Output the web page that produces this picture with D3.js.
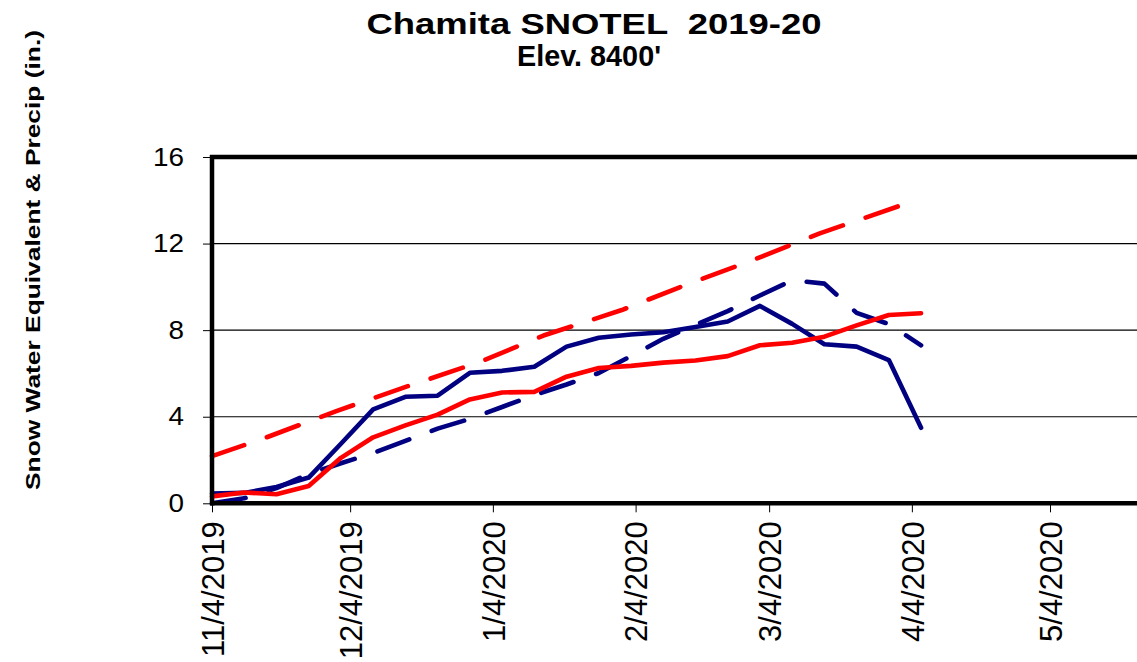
<!DOCTYPE html>
<html><head><meta charset="utf-8">
<script src="https://cdn.jsdelivr.net/npm/d3@7"></script>
<style>
body{margin:0;background:#fff}
svg{display:block}
text{font-family:Arial,"Liberation Sans",sans-serif;fill:#000}
</style>
</head><body>
<svg id="chart" width="1137" height="662"></svg>
<script>
// ---- data ----
const weekDates = ["2019-11-04","2019-11-11","2019-11-18","2019-11-25","2019-12-02","2019-12-09","2019-12-16","2019-12-23","2019-12-30","2020-01-06","2020-01-13","2020-01-20","2020-01-27","2020-02-03","2020-02-10","2020-02-17","2020-02-24","2020-03-02","2020-03-09","2020-03-16","2020-03-23","2020-03-30","2020-04-06"];
const swe2020 =    [0.45,0.48,0.75,1.19,2.75,4.34,4.92,4.97,6.03,6.12,6.31,7.24,7.65,7.80,7.90,8.15,8.40,9.12,8.29,7.35,7.24,6.62,3.49];
const sweAvg =     [0.00,0.23,0.70,1.35,1.85,2.32,2.88,3.45,3.90,4.45,5.00,5.49,6.02,6.80,7.60,8.24,8.88,9.60,10.30,10.15,8.80,8.28,7.30];
const precip2020 = [0.32,0.50,0.42,0.80,2.10,3.05,3.60,4.10,4.80,5.12,5.15,5.85,6.25,6.35,6.50,6.60,6.80,7.30,7.42,7.70,8.22,8.70,8.78];
const precipAvgDates = ["2019-11-04","2019-11-15","2019-12-01","2019-12-15","2020-01-01","2020-01-15","2020-02-01","2020-02-15","2020-03-01","2020-03-15","2020-04-01"];
const precipAvg =      [2.18,2.98,4.26,5.30,6.52,7.75,8.93,10.10,11.28,12.47,13.72];
const xTickDates  = ["2019-11-04","2019-12-04","2020-01-04","2020-02-04","2020-03-04","2020-04-04","2020-05-04"];
const xTickLabels = ["11/4/2019","12/4/2019","1/4/2020","2/4/2020","3/4/2020","4/4/2020","5/4/2020"];
const yTicks = [0,4,8,12,16];
const titleLines = ["Chamita SNOTEL  2019-20","Elev. 8400'"];
const yTitle = "Snow Water Equivalent & Precip (in.)";

// ---- setup ----
const parse = d3.utcParse("%Y-%m-%d");
const svg = d3.select("#chart");
const W = 1137;
const pLeft = 212, pTop = 157, pBottom = 503.3;

const x = d3.scaleUtc()
  .domain([parse("2019-11-04"), parse("2020-05-04")])
  .range([pLeft, 1050]);
const y = d3.scaleLinear().domain([0,16]).range([pBottom, pTop]);

// gridlines
svg.append("g").selectAll("line")
  .data(yTicks.filter(v => v > 0 && v < 16))
  .join("line")
  .attr("x1", pLeft).attr("x2", W)
  .attr("y1", d => y(d)).attr("y2", d => y(d))
  .attr("stroke", "#000").attr("stroke-width", 1.2);

// y axis
const yAxis = svg.append("g").attr("transform", `translate(${pLeft},0)`)
  .call(d3.axisLeft(y).tickValues(yTicks).tickSize(9).tickPadding(19).tickFormat(d3.format("d")));
yAxis.select(".domain").remove();
yAxis.selectAll(".tick line").attr("stroke", "#000");
yAxis.selectAll("text")
  .attr("font-size", 25)
  .attr("textLength", d => String(d).length * 15.5)
  .attr("lengthAdjust", "spacingAndGlyphs")
  .attr("fill", "#000");

// x axis
const tickMap = new Map(xTickDates.map((d,i) => [+parse(d), xTickLabels[i]]));
const xAxis = svg.append("g").attr("transform", `translate(0,${pBottom})`)
  .call(d3.axisBottom(x).tickValues(xTickDates.map(parse)).tickSize(9).tickFormat(d => tickMap.get(+d)));
xAxis.select(".domain").remove();
xAxis.selectAll(".tick line").attr("stroke", "#000");
xAxis.selectAll("text")
  .attr("font-size", 31)
  .attr("transform", "rotate(-90)")
  .attr("x", -18).attr("y", 0).attr("dy", "0.36em")
  .style("text-anchor", "end")
  .attr("fill", "#000");

// series
const line = d3.line().x(d => x(d[0])).y(d => y(d[1]));
const mk = (dates, vals) => dates.map((d,i) => [parse(d), vals[i]]);
const series = [
  {pts: mk(precipAvgDates, precipAvg), color: "#ff0000", dash: "34,24"},
  {pts: mk(weekDates, sweAvg), color: "#000080", dash: "34,24"},
  {pts: mk(weekDates, swe2020), color: "#000080", dash: null},
  {pts: mk(weekDates, precip2020), color: "#ff0000", dash: null}
];
svg.append("g").selectAll("path")
  .data(series)
  .join("path")
  .attr("d", d => line(d.pts))
  .attr("fill", "none")
  .attr("stroke", d => d.color)
  .attr("stroke-width", 4.6)
  .attr("stroke-linejoin", "round")
  .attr("stroke-linecap", "round")
  .attr("stroke-dasharray", d => d.dash);

// frame
const frame = svg.append("g").attr("stroke", "#000").attr("stroke-width", 4.5).attr("fill", "none");
frame.append("line").attr("x1", pLeft - 2).attr("x2", W).attr("y1", pTop).attr("y2", pTop);
frame.append("line").attr("x1", pLeft - 2).attr("x2", W).attr("y1", pBottom).attr("y2", pBottom);
frame.append("line").attr("x1", pLeft).attr("x2", pLeft).attr("y1", pTop - 2).attr("y2", pBottom + 2);

// titles
svg.append("text").attr("x", 594).attr("y", 34).attr("text-anchor", "middle")
  .style("white-space", "pre")
  .attr("font-size", 30).attr("font-weight", "bold")
  .attr("textLength", 455).attr("lengthAdjust", "spacingAndGlyphs")
  .text(titleLines[0]);
svg.append("text").attr("x", 589).attr("y", 66).attr("text-anchor", "middle")
  .attr("font-size", 30).attr("font-weight", "bold")
  .attr("textLength", 144).attr("lengthAdjust", "spacingAndGlyphs")
  .text(titleLines[1]);
svg.append("text")
  .attr("transform", "translate(33,260) rotate(-90)")
  .attr("text-anchor", "middle").attr("dy", "0.36em")
  .attr("font-size", 20).attr("font-weight", "bold")
  .attr("textLength", 460).attr("lengthAdjust", "spacingAndGlyphs")
  .text(yTitle);
</script>
</body></html>
